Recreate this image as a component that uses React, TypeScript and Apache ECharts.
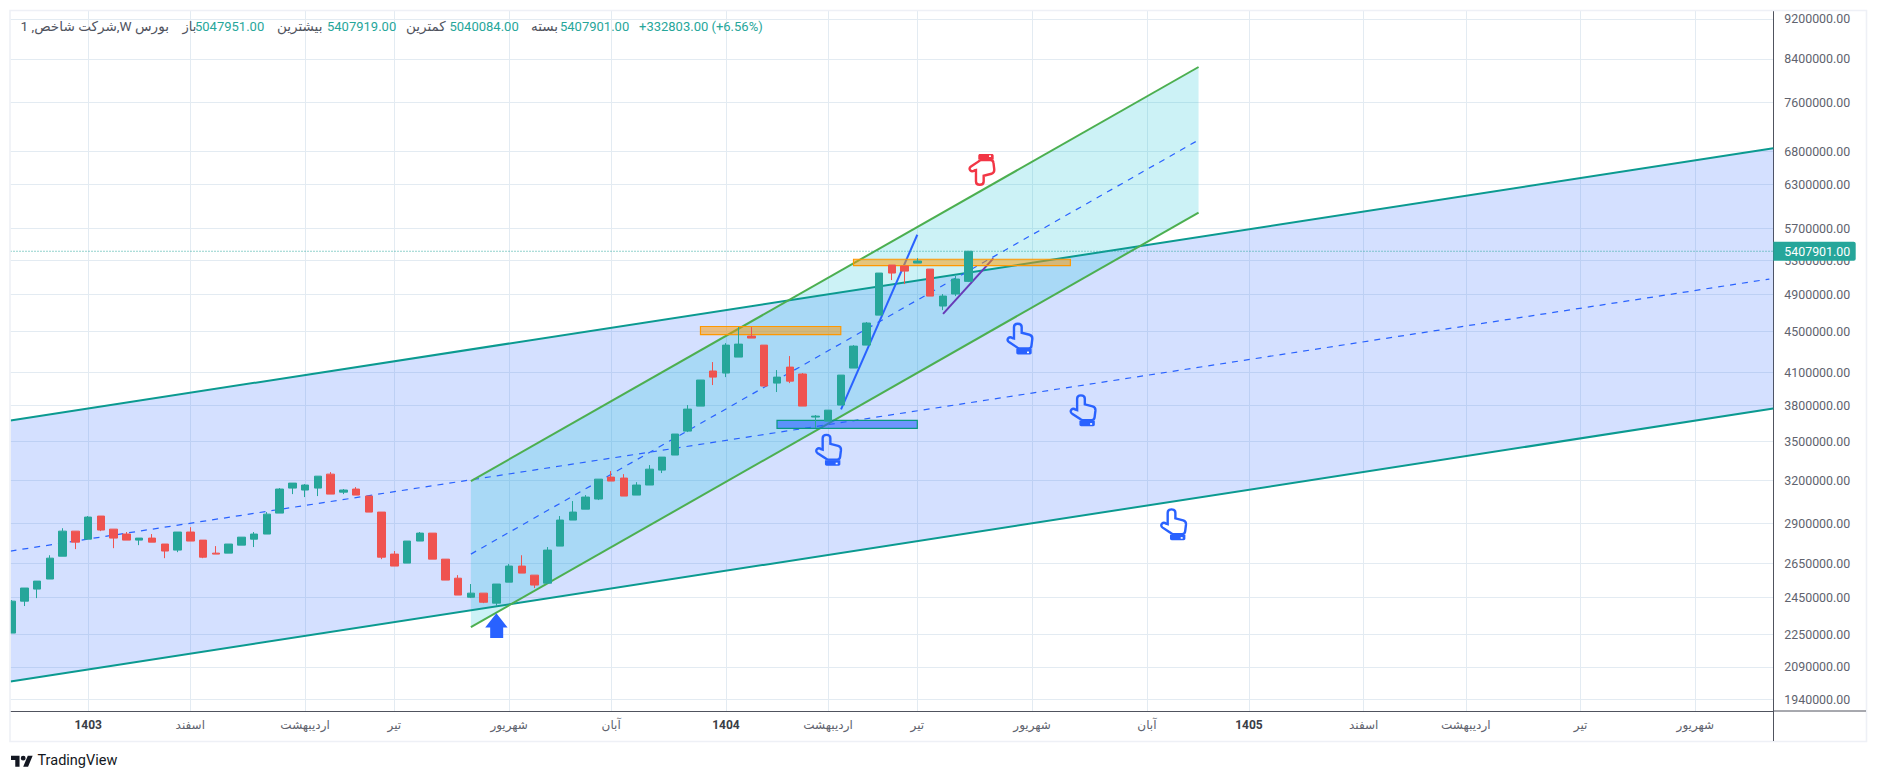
import React, { useEffect, useRef } from "react";
import * as echarts from "echarts";

const opens = [2258,2429,2497,2555,2692,2851,2799,2951,2864,2832,2793,2806,2768,2730,2845,2793,2711,2711,2761,2799,2832,2971,3146,3132,3146,3248,3117,3139,3089,2978,2705,2650,2787,2838,2674,2560,2451,2474,2418,2537,2632,2578,2531,2755,2924,2998,3068,3226,3219,3096,3168,3278,3393,3584,3795,4112,4093,4245,4454,4363,4000,4149,4084,3701,3667,3804,4140,4363,4673,5240,5228,5264,5192,4771,4904,5047.951];
const closes = [2429,2503,2543,2680,2851,2780,2944,2858,2806,2793,2806,2780,2724,2845,2787,2686,2705,2768,2812,2832,2964,3139,3182,3168,3233,3103,3132,3096,2978,2686,2632,2787,2838,2674,2549,2463,2474,2423,2526,2632,2590,2520,2730,2924,2978,3082,3211,3197,3089,3168,3285,3377,3560,3769,4028,4055,4363,4373,4434,3973,4055,4018,3795,3709,3760,4074,4353,4589,5145,5145,5168,5288,4881,4881,5075,5407.901];
const lows = [2258,2402,2446,2555,2692,2736,2799,2851,2742,2793,2761,2780,2680,2717,2787,2680,2705,2711,2761,2749,2832,2971,3103,3082,3089,3103,3103,3096,2978,2674,2632,2650,2787,2674,2549,2463,2446,2418,2402,2537,2590,2503,2531,2755,2924,2998,3061,3197,3089,3096,3168,3256,3393,3576,3795,3982,4055,4245,4434,3973,3919,4000,3795,3609,3667,3804,4140,4363,4673,5063,5017,5264,4881,4727,4881,5040.084];
const highs = [2435,2503,2543,2698,2870,2851,2951,2951,2864,2845,2806,2832,2768,2845,2877,2793,2755,2768,2812,2845,2978,3146,3182,3175,3233,3263,3139,3153,3089,2978,2724,2787,2845,2838,2674,2578,2526,2474,2526,2644,2698,2578,2749,2951,3054,3096,3211,3271,3248,3189,3316,3377,3560,3804,4028,4197,4383,4547,4547,4363,4121,4255,4093,3718,3760,4074,4363,4600,5145,5240,5228,5324,5192,4904,5110,5407.919];
const priceTicks = [9200000,8400000,7600000,6800000,6300000,5700000,5300000,4900000,4500000,4100000,3800000,3500000,3200000,2900000,2650000,2450000,2250000,2090000,1940000];
const timeTicks = [6,14,23,30,39,47,56,64,71,80,89,97,106,114,123,132];
const timeLabels = ["1403","اسفند","اردیبهشت","تیر","شهریور","آبان","1404","اردیبهشت","تیر","شهریور","آبان","1405","اسفند","اردیبهشت","تیر","شهریور"];

// Drawing anchors: [bar index, price in thousands]
const bigTop = [[-0.094,3672],[138.11,6844]];
const bigMid = [[-0.094,2724],[137.8,5075]];
const bigBottom = [[-0.094,2021],[138.11,3774]];
const smallTop = [[36,3197],[93.05,8243]];
const smallMid = [[36,2705],[93.05,6975]];
const smallBottom = [[36,2289],[93.05,5907]];
const blueTrend = [[65.02,3767],[71,5616]];
const purpleTrend = [[73.02,4687],[76.96,5320]];
const orangeBoxes = [[54,4553,65,4470],[66,5310,83,5234]];
const blueBoxes = [[60,3673,71,3607]];
const upHands = [[64.05,3435],[79.05,4429],[84,3760],[91.1,2897]];
const downHands = [[76.07,6513]];
const arrowUp = [[38,2297]];

const X_MIN = -0.094;
const X_MAX = 138.11;
const Y_MIN = 1888000;
const Y_MAX = 9376000;
const FONT = 'Roboto, "Noto Sans", "DejaVu Sans", sans-serif';
const UP = "#26a69a";
const DOWN = "#ef5350";

const toLog = (k: number) => Math.log10(k * 1000);
const lg = (p: number) => Math.log10(p);
const pts = (a: number[][]) => a.map(([x, k]) => [x, toLog(k)]);

const HAND = "M7.5 16V4.5C7.5 2.4 9.2 1.2 11.3 1.2C13.4 1.2 15.2 2.4 15.2 4.5V10.2L23 12.2C25 12.8 26 14.3 25.8 16.5L25 23C24.8 25 23.5 26 22 26H13C11.5 26 10.8 25.3 9.8 24.3L2.5 19.5C0.8 18.3 0.7 16.6 1.8 15.5C3 14.4 4.6 14.5 6 15.6Z";
const CUFF = "M9.8 26.5H25.2V30.3C25.2 31.4 24.4 32 23.5 32H11.5C10.6 32 9.8 31.4 9.8 30.3Z";
const ARROW = "M11.2 0L22.4 14.3H18V24.7H5V14.3H0Z";
const LOGO = "M14 22H7V11H0V4h14v18zM28 22h-8l7.5-18h8L28 22zM20 4a4 4 0 1 0 0 8a4 4 0 1 0 0-8z";
echarts.graphic.registerShape("tvlogo", echarts.graphic.extendPath(LOGO as any, {}) as any);

const customSeries = (z: number, renderItem: any) => ({
  type: "custom", z, silent: true, clip: false, data: [[0, lg(Y_MIN)]], renderItem,
});

function buildOption() {
  const candles = opens.map((o, i) => [i, toLog(o), toLog(closes[i]), toLog(lows[i]), toLog(highs[i])]);
  const lastClose = closes[closes.length - 1];

  const line = (data: number[][], color: string, width: number, type: any, z: number) => ({
    type: "line", z, silent: true, symbol: "none", data: pts(data), animation: false,
    lineStyle: { color, width, type },
  });

  const polygon = (upper: number[][], lower: number[][], fill: string, z: number) =>
    customSeries(z, (_: any, api: any) => ({
      type: "polygon",
      shape: { points: [...pts(upper), ...pts(lower).reverse()].map((p) => api.coord(p)) },
      style: { fill },
    }));

  const box = (b: number[], fill: string, stroke: string) => (_: any, api: any) => {
    const a = api.coord([b[0], toLog(b[1])]);
    const c = api.coord([b[2], toLog(b[3])]);
    return { type: "rect", shape: { x: a[0], y: a[1], width: c[0] - a[0], height: c[1] - a[1] }, style: { fill, stroke, lineWidth: 1.2 } };
  };

  const hand = (anchor: number[], color: string, flip: boolean) => (_: any, api: any) => {
    const c = api.coord([anchor[0], toLog(anchor[1])]);
    return {
      type: "group", x: c[0], y: c[1], scaleY: flip ? -1 : 1,
      children: [
        { type: "group", x: -13.5, y: -16, children: [
          { type: "path", shape: { pathData: HAND }, style: { fill: "none", stroke: color, lineWidth: 2.4 } },
          { type: "path", shape: { pathData: CUFF }, style: { fill: color } },
          { type: "rect", shape: { x: 20.5, y: 29, width: 2, height: 1.6 }, style: { fill: "#ffffff" } },
        ] },
      ],
    };
  };

  return {
    animation: false,
    backgroundColor: "#ffffff",
    textStyle: { fontFamily: FONT },
    grid: { left: 10.5, right: 104.7, top: 10.7, bottom: 69.7, containLabel: false },
    xAxis: {
      type: "value", min: X_MIN, max: X_MAX,
      axisLine: { show: true, lineStyle: { color: "#50535e", width: 1 } },
      axisTick: { show: false, customValues: timeTicks },
      splitLine: { show: true, lineStyle: { color: "#e3ebf2", width: 1 } },
      axisLabel: {
        customValues: timeTicks, margin: 8, fontSize: 12, color: "#60636e", fontFamily: FONT,
        formatter: (v: number) => {
          const t = timeLabels[timeTicks.indexOf(Math.round(v))] ?? "";
          return /^\d+$/.test(t) ? `{y|${t}}` : t;
        },
        rich: { y: { fontWeight: 700, fontSize: 12, color: "#3a3d46", fontFamily: FONT } },
      },
    },
    yAxis: {
      type: "value", position: "right", scale: true, min: lg(Y_MIN), max: lg(Y_MAX),
      axisLine: { show: true, onZero: false, lineStyle: { color: "#50535e", width: 1 } },
      axisTick: { show: false, customValues: priceTicks.map(lg) },
      splitLine: { show: true, lineStyle: { color: "#e3ebf2", width: 1 } },
      axisLabel: {
        customValues: priceTicks.map(lg), margin: 11, fontSize: 12.4, color: "#60636e", fontFamily: FONT,
        formatter: (v: number) => (Math.round(Math.pow(10, v) / 100) * 100).toFixed(2),
      },
    },
    series: [
      polygon(bigTop, bigBottom, "rgba(41,98,255,0.2)", 1),
      polygon(smallTop, smallBottom, "rgba(0,188,212,0.2)", 1),
      line(bigTop, "#0b9a90", 2, "solid", 2),
      line(bigBottom, "#0b9a90", 2, "solid", 2),
      line(bigMid, "#2962ff", 1.2, [6, 6], 2),
      line(smallTop, "#4caf50", 2, "solid", 2),
      line(smallBottom, "#4caf50", 2, "solid", 2),
      line(smallMid, "#2962ff", 1.2, [6, 6], 2),
      line(blueTrend, "#2962ff", 2, "solid", 2),
      line(purpleTrend, "#673ab7", 2, "solid", 2),
      line([[X_MIN, lastClose], [X_MAX, lastClose]], UP, 1, [1, 2], 2),
      ...orangeBoxes.map((b) => customSeries(3, box(b, "rgba(255,152,0,0.5)", "#ff9800"))),
      ...blueBoxes.map((b) => customSeries(3, box(b, "rgba(41,98,255,0.6)", "#089981"))),
      ...upHands.map((a) => customSeries(4, hand(a, "#2962ff", false))),
      ...downHands.map((a) => customSeries(4, hand(a, "#f23645", true))),
      ...arrowUp.map((a) => customSeries(4, (_: any, api: any) => {
        const c = api.coord([a[0], toLog(a[1])]);
        return { type: "path", x: c[0] - 11.2, y: c[1] - 12.35, shape: { pathData: ARROW }, style: { fill: "#2962ff" } };
      })),
      {
        type: "candlestick", z: 5, silent: true, clip: true, data: candles, encode: { x: 0, y: [1, 2, 3, 4] },
        barWidth: 8,
        itemStyle: { color: UP, color0: DOWN, borderColor: UP, borderColor0: DOWN, borderWidth: 1 },
      },
      customSeries(6, (_: any, api: any) => {
        const c = api.coord([X_MAX, toLog(lastClose)]);
        return {
          type: "group", children: [
            { type: "rect", shape: { x: c[0], y: c[1] - 9.5, width: 82.4, height: 19, r: [0, 2, 2, 0] }, style: { fill: UP } },
            { type: "text", x: c[0] + 11, y: c[1], style: { text: "5407901.00", fill: "#ffffff", font: `12.4px ${FONT}`, textVerticalAlign: "middle", textAlign: "left" } },
          ],
        };
      }),
    ],
    graphic: [
      { type: "rect", silent: true, z: 100, shape: { x: 0, y: 0, width: 10, height: 781 }, style: { fill: "#ffffff" } },
      { type: "rect", silent: true, z: 101, shape: { x: 10, y: 10.5, width: 1856.5, height: 731 }, style: { fill: "none", stroke: "#eef0f6", lineWidth: 1.6 } },
      { type: "line", silent: true, z: 101, shape: { x1: 1773.5, y1: 711, x2: 1866, y2: 711 }, style: { stroke: "#50535e", lineWidth: 1 } },
      { type: "line", silent: true, z: 101, shape: { x1: 1773.5, y1: 711, x2: 1773.5, y2: 741 }, style: { stroke: "#50535e", lineWidth: 1 } },
      ...[
        { t: "1 ,شرکت شاخص,W بورس", x: 20.5, c: "#50535e", s: 13.6 },
        { t: "باز", x: 182.5, c: "#50535e", s: 13 },
        { t: "5047951.00", x: 195, c: UP, s: 13 },
        { t: "بیشترین", x: 277, c: "#50535e", s: 13.5 },
        { t: "5407919.00", x: 327, c: UP, s: 13 },
        { t: "کمترین", x: 406, c: "#50535e", s: 13.5 },
        { t: "5040084.00", x: 449.5, c: UP, s: 13 },
        { t: "بسته", x: 531, c: "#50535e", s: 13.5 },
        { t: "5407901.00", x: 560, c: UP, s: 13 },
        { t: "+332803.00 (+6.56%)", x: 639, c: UP, s: 13 },
      ].map((d) => ({ type: "text", silent: true, z: 102, x: d.x, y: 26, style: { text: d.t, fill: d.c, font: `${d.s}px ${FONT}`, textVerticalAlign: "middle" } })),
      { type: "tvlogo", silent: true, x: 11, y: 753.3, scaleX: 0.61, scaleY: 0.61, style: { fill: "#131722" } },
      { type: "text", silent: true, x: 37.5, y: 760.5, style: { text: "TradingView", fill: "#131722", font: `14.5px ${FONT}`, textVerticalAlign: "middle" } },
    ],
  };
}

export default function App() {
  const ref = useRef<HTMLDivElement>(null);
  useEffect(() => {
    document.body.style.margin = "0";
    const chart = echarts.init(ref.current!, undefined, { renderer: "svg" });
    chart.setOption(buildOption() as any);
    return () => chart.dispose();
  }, []);
  return <div ref={ref} style={{ width: 1878, height: 781 }} />;
}
